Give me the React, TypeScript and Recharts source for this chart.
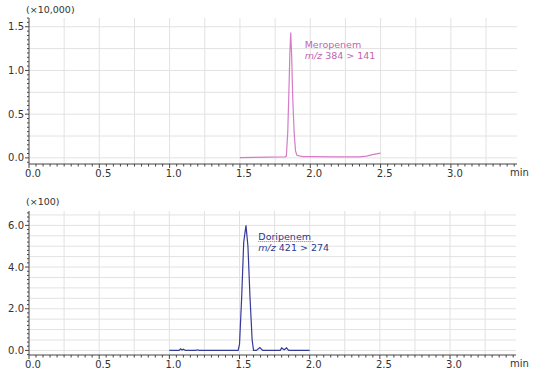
import React from "react";
import {
  CartesianGrid,
  Line,
  LineChart,
  ReferenceArea,
  ReferenceDot,
  XAxis,
  YAxis,
} from "recharts";

// Meropenem, m/z 384 > 141 (intensity x10,000)
const meroTime = [
  1.5, 1.6, 1.7, 1.78, 1.82, 1.83, 1.84, 1.848, 1.855, 1.861, 1.868, 1.875,
  1.885, 1.895, 1.905, 1.93, 1.95, 2.0, 2.2, 2.35, 2.4, 2.45, 2.5,
];
const meroIntensity = [
  0.003, 0.005, 0.008, 0.01, 0.012, 0.02, 0.3, 0.75, 1.2, 1.435, 1.15, 0.7,
  0.3, 0.08, 0.03, 0.02, 0.015, 0.015, 0.012, 0.012, 0.02, 0.04, 0.055,
];

// Doripenem, m/z 421 > 274 (intensity x100)
const doriTime = [
  1.0, 1.07, 1.08, 1.09, 1.1, 1.115, 1.19, 1.2, 1.21, 1.49, 1.5, 1.515, 1.53,
  1.546, 1.56, 1.575, 1.59, 1.6, 1.62, 1.645, 1.665, 1.79, 1.8, 1.818, 1.835,
  1.85, 2.0,
];
const doriIntensity = [
  0.0, 0.0, 0.08, 0.02, 0.06, 0.0, 0.0, 0.03, 0.0, 0.0, 0.3, 2.5, 5.2, 6.0,
  5.0, 2.5, 0.5, 0.0, 0.0, 0.14, 0.0, 0.0, 0.12, 0.03, 0.12, 0.0, 0.0,
];

// axis labels
const xLabels = [0, 0.5, 1.0, 1.5, 2.0, 2.5, 3.0];
const meroYLabels = [0, 0.5, 1.0, 1.5];
const doriYLabels = [0, 2.0, 4.0, 6.0];

const FONT = "'DejaVu Sans', Verdana, sans-serif";
const MERO_COLOR = "#d67cc7";
const DORI_COLOR = "#363a98";

const steps = (from: number, to: number, step: number) => {
  const out: number[] = [];
  for (let i = 0; from + i * step <= to + 1e-9; i++) {
    out.push(+(from + i * step).toFixed(3));
  }
  return out;
};

const isLabel = (labels: number[], v: number) =>
  labels.some((l) => Math.abs(l - v) < 1e-6);

const XTick = (props: any) => {
  const { x, y, payload } = props;
  const major = isLabel(xLabels, payload.value);
  return (
    <g>
      <line x1={x} y1={y} x2={x} y2={y + (major ? 4 : 2.5)} stroke="#444" />
      {major && (
        <text
          x={x + 4}
          y={y + 12.5}
          textAnchor="middle"
          fontSize={10}
          fontFamily={FONT}
          fill="#333"
        >
          {payload.value.toFixed(1)}
        </text>
      )}
    </g>
  );
};

const makeYTick = (labels: number[]) => (props: any) => {
  const { x, y, payload } = props;
  const major = isLabel(labels, payload.value);
  return (
    <g>
      <line x1={x} y1={y} x2={x - (major ? 4 : 2)} y2={y} stroke="#444" />
      {major && (
        <text
          x={x - 5}
          y={y + 3.5}
          textAnchor="end"
          fontSize={10}
          fontFamily={FONT}
          fill="#333"
        >
          {payload.value.toFixed(1)}
        </text>
      )}
    </g>
  );
};

const PeakLabel =
  (name: string, transition: string, color: string, underline: boolean) =>
  (props: any) => {
    const { cx, cy } = props;
    return (
      <g>
        <text x={cx} y={cy} fontSize={9.5} fontFamily={FONT} fill={color}>
          {name}
        </text>
        {underline && (
          <line
            x1={cx}
            y1={cy + 2}
            x2={cx + 55}
            y2={cy + 2}
            stroke="#e05050"
            strokeDasharray="1 1"
          />
        )}
        <text x={cx} y={cy + 11} fontSize={9.5} fontFamily={FONT} fill={color}>
          <tspan fontStyle="italic">m/z</tspan> {transition}
        </text>
      </g>
    );
  };

const meroData = meroTime.map((t, i) => ({ t, v: meroIntensity[i] }));
const doriData = doriTime.map((t, i) => ({ t, v: doriIntensity[i] }));

const X_DOMAIN: [number, number] = [0, 3.47];
const xMinor = steps(0, 3.45, 0.05);
const gridX = steps(0.25, 3.25, 0.25);

const note: React.CSSProperties = {
  position: "absolute",
  fontFamily: FONT,
  color: "#333",
  lineHeight: 1,
  whiteSpace: "nowrap",
};

function Chromatogram({
  data,
  color,
  yDomain,
  yLabels,
  yMinor,
  gridY,
  margin,
  height,
  children,
}: any) {
  return (
    <LineChart width={544} height={height} data={data} margin={margin}>
      <CartesianGrid
        stroke="#e2e2e2"
        horizontalValues={gridY}
        verticalValues={gridX}
      />
      <XAxis
        dataKey="t"
        type="number"
        domain={X_DOMAIN}
        allowDataOverflow
        ticks={xMinor}
        interval={0}
        tickLine={false}
        tickSize={0}
        tickMargin={0}
        tick={<XTick />}
        height={20}
        stroke="#444"
      />
      <YAxis
        type="number"
        domain={yDomain}
        allowDataOverflow
        ticks={yMinor}
        interval={0}
        tickLine={false}
        tickSize={0}
        tickMargin={0}
        tick={makeYTick(yLabels)}
        width={29}
        stroke="#444"
      />
      <ReferenceArea fill="none" stroke="#4a4a4a" strokeWidth={1.5} />
      <Line
        dataKey="v"
        type="linear"
        stroke={color}
        strokeWidth={1.2}
        dot={false}
        isAnimationActive={false}
      />
      {children}
    </LineChart>
  );
}

export default function App() {
  return (
    <div
      style={{
        position: "absolute",
        left: 0,
        top: 0,
        width: 544,
        height: 377,
        background: "#fff",
      }}
    >
      <div style={{ position: "absolute", left: 0, top: 0 }}>
        <Chromatogram
          data={meroData}
          color={MERO_COLOR}
          yDomain={[-0.07, 1.6]}
          yLabels={meroYLabels}
          yMinor={steps(-0.05, 1.6, 0.05)}
          gridY={steps(0, 1.5, 0.25)}
          margin={{ top: 18, right: 27, bottom: 6, left: 0 }}
          height={190}
        >
          <ReferenceDot
            x={1.96}
            y={1.256}
            r={2}
            isFront
            shape={PeakLabel("Meropenem", "384 > 141", "#c45fb5", false)}
          />
        </Chromatogram>
      </div>
      <div style={{ position: "absolute", left: 0, top: 190 }}>
        <Chromatogram
          data={doriData}
          color={DORI_COLOR}
          yDomain={[-0.22, 6.69]}
          yLabels={doriYLabels}
          yMinor={steps(-0.2, 6.6, 0.2)}
          gridY={steps(0, 6.5, 0.5)}
          margin={{ top: 21, right: 28, bottom: 2, left: 0 }}
          height={187}
        >
          <ReferenceDot
            x={1.634}
            y={5.32}
            r={2}
            isFront
            shape={PeakLabel("Doripenem", "421 > 274", "#2b3890", true)}
          />
        </Chromatogram>
      </div>
      <div style={{ ...note, left: 26, top: 5, fontSize: 9.5 }}>(×10,000)</div>
      <div style={{ ...note, left: 26, top: 197, fontSize: 9.5 }}>(×100)</div>
      <div style={{ ...note, left: 510, top: 168, fontSize: 10 }}>min</div>
      <div style={{ ...note, left: 510, top: 359, fontSize: 10 }}>min</div>
    </div>
  );
}
